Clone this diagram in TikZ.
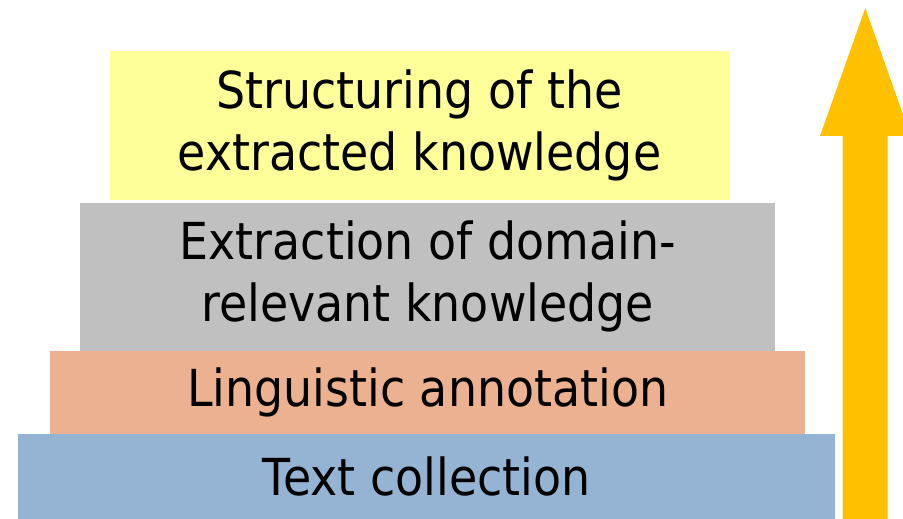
\documentclass[tikz,border=0pt]{standalone}
\usepackage{fontspec}
\setmainfont{DejaVu Sans}[FakeStretch=0.9]
\usetikzlibrary{positioning}

\definecolor{layeryellow}{RGB}{255,255,153}
\definecolor{layergray}{RGB}{192,192,192}
\definecolor{layerorange}{RGB}{235,177,145}
\definecolor{layerblue}{RGB}{149,179,210}
\definecolor{arrowgold}{RGB}{255,192,0}

\begin{document}
\begin{tikzpicture}[
        x=1pt, y=1pt,
        node distance=0pt,
        layer/.style={rectangle, draw=none, inner sep=0pt, align=center, text=black,
            font=\fontsize{51pt}{62pt}\selectfont}
    ]
    \useasboundingbox (0,0) rectangle (903,519);

    % the stack, from the bottom up
    \node[layer, fill=layerblue, minimum width=817pt, minimum height=84.3pt, anchor=south west] (collection) at (18,0) {Text collection};
    \node[layer, fill=layerorange, minimum width=755pt, minimum height=83pt, above=of collection, xshift=1pt] (annotation) {Linguistic annotation};
    \node[layer, fill=layergray, minimum width=695pt, minimum height=147.7pt, above=of annotation] (extraction) {Extraction of domain-\\relevant knowledge};
    \node[layer, fill=layeryellow, minimum width=618.5pt, minimum height=149pt, above=2.3pt of extraction, xshift=-8.2pt] (structuring) {Structuring of the\\extracted knowledge};

    % rising arrow on the right
    \fill[arrowgold] (842.7,0) -- (842.7,383) -- (820,383) -- (865.3,511)
        -- (910.6,383) -- (887.7,383) -- (887.7,0) -- cycle;
\end{tikzpicture}
\end{document}
